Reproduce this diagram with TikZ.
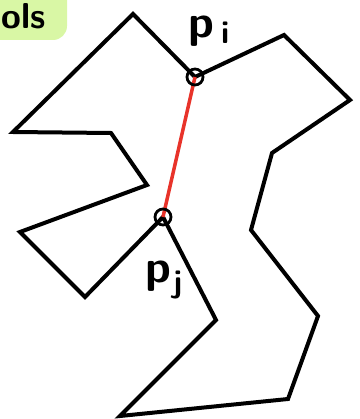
\documentclass[tikz,border=0pt]{standalone}
\usepackage{fontspec}
\begin{document}
\begin{tikzpicture}[x=1pt,y=-1pt,
  poly/.style={line width=4pt,line join=miter,black},
  chord/.style={line width=3.5pt,draw={rgb,255:red,232;green,51;blue,42}},
  vtx/.style={circle,draw,line width=2.8pt,minimum size=16pt,inner sep=0pt},
  lbl/.style={inner sep=0pt,anchor=base west,font=\sffamily\bfseries\fontsize{46}{46}\selectfont}]
\useasboundingbox (0,0) rectangle (359,419);
\definecolor{tagg}{RGB}{217,247,165}
\begin{scope}
\clip (0,0) rectangle (359,419);
\fill[tagg,rounded corners=14pt] (-40,-20) rectangle (67,40);
\node[inner sep=0pt,anchor=base west,font=\sffamily\bfseries\fontsize{36}{36}\selectfont] (tag) at (1,29) {ols};
\end{scope}
\coordinate (pi) at (195,77);
\coordinate (pj) at (163,217);
\draw[poly] (pi) -- (284,35) -- (350,100) -- (272,153) -- (251,230) -- (318,316)
  -- (288,399) -- (120,416) -- (216,320) -- (pj) -- (85,297) -- (20,232)
  -- (147,185) -- (111,133) -- (13,132) -- (133,14) -- cycle;
\draw[chord] (pi) -- (pj);
\node[vtx] (ci) at (pi) {};
\node[vtx] (cj) at (pj) {};
\node[lbl] (li) at (188,38) {p\kern7pt\raisebox{-6pt}{\fontsize{32}{32}\selectfont i}};
\node[lbl] (lj) at (145,282) {p\kern2pt\raisebox{-10pt}{\fontsize{32}{32}\selectfont j}};
\end{tikzpicture}
\end{document}
